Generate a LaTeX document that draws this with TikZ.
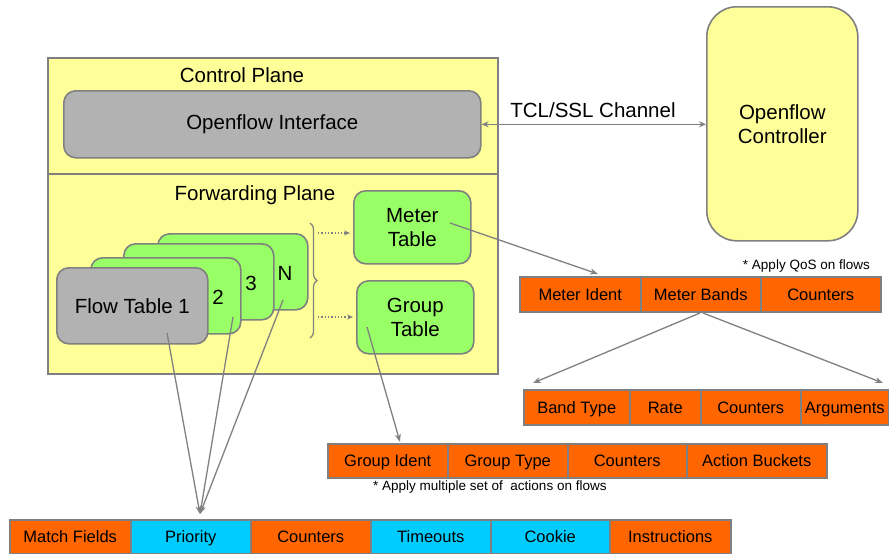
\documentclass[tikz,border=0pt]{standalone}
\usepackage{fontspec}
\setmainfont{Liberation Sans}
\usetikzlibrary{arrows.meta,decorations.pathreplacing,calc}

\definecolor{planeyellow}{HTML}{FFFF99}
\definecolor{tablegreen}{HTML}{99FF66}
\definecolor{boxgray}{HTML}{B2B2B2}
\definecolor{fieldorange}{HTML}{FF6600}
\definecolor{fieldcyan}{HTML}{00CCFF}
\definecolor{edgegray}{HTML}{808080}

\tikzset{
  big/.style={font=\fontsize{20.5}{24}\selectfont},
  plane/.style={draw=edgegray, line width=1.6, fill=planeyellow, inner sep=0, anchor=north west},
  rbox/.style={draw=edgegray, line width=1.6, rounded corners=12, inner sep=0, anchor=north west, align=center, big},
  cell/.style={draw=edgegray, line width=1.5, inner sep=0, anchor=north west, minimum height=35,
    text height=11.8, text depth=0, font=\fontsize{16.5}{18}\selectfont},
  org/.style={cell, fill=fieldorange},
  cyn/.style={cell, fill=fieldcyan},
  note/.style={font=\fontsize{13.5}{15}\selectfont, inner sep=0},
  conn/.style={draw=edgegray, line width=1.3, -{Stealth[length=8,width=6]}},
  dotconn/.style={draw=edgegray, line width=1.3, dotted, -{Stealth[length=6,width=5]}},
}

\begin{document}
\begin{tikzpicture}[x=1pt,y=-1pt]
\useasboundingbox (0,0) rectangle (889,554);

% switch planes
\node[plane, minimum width=450, minimum height=116] (cplane) at (47,57) {};
\node[plane, minimum width=450, minimum height=200] (fplane) at (47,173) {};
\node[big, inner sep=0] (ctitle) at (242,75) {Control Plane};
\node[big, inner sep=0] (ftitle) at (255,195) {Forwarding Plane};

% openflow interface
\node[rbox, fill=boxgray, minimum width=417, minimum height=67] (ofi) at (63,90) {Openflow Interface};

% controller
\node[rbox, rounded corners=30, fill=planeyellow, minimum width=151, minimum height=234] (ctrl) at (706,6) {Openflow\\Controller};
\draw[draw=edgegray, line width=1.3, {Stealth[length=7,width=6]}-{Stealth[length=7,width=6]}] (ofi.east) -- (ctrl.west |- ofi.east);
\node[big, inner sep=0] (chan) at (593,110) {TCL/SSL Channel};

% stacked flow tables
\node[rbox, fill=tablegreen, minimum width=150, minimum height=76] (ftN) at (157,233) {};
\node[rbox, fill=tablegreen, minimum width=150, minimum height=76] (ft3) at (123,243) {};
\node[rbox, fill=tablegreen, minimum width=150, minimum height=76] (ft2) at (90,257) {};
\node[rbox, fill=boxgray, minimum width=151, minimum height=76] (ft1) at (56,267) {Flow Table 1};
\node[big, inner sep=0] (lbl2) at (218,297) {2};
\node[big, inner sep=0] (lbl3) at (251,283) {3};
\node[big, inner sep=0] (lblN) at (285,273) {N};

% meter and group tables
\node[rbox, fill=tablegreen, minimum width=117, minimum height=73] (meter) at (353,190) {Meter\\Table};
\node[rbox, fill=tablegreen, minimum width=117, minimum height=73] (group) at (356,280) {Group\\Table};

% brace and dotted links
\coordinate (btop) at (310,223);
\coordinate (bbot) at (310,338);
\draw[draw=edgegray, line width=1.2, decorate, decoration={brace, amplitude=7}] (btop) -- (bbot);
\coordinate (m0) at (318,233);
\coordinate (g0) at (318,317);
\draw[dotconn, shorten >=3] (m0) -- (m0 -| meter.west);
\draw[dotconn, shorten >=3] (g0) -- (g0 -| group.west);

% meter entry
\node[note, anchor=east] (qos) at (870,266) {* Apply QoS on flows};
\node[org, minimum width=121] (mid) at (519,276) {Meter Ident};
\node[org, minimum width=120] (mbands) at (640,276) {Meter Bands};
\node[org, minimum width=120] (mcnt) at (760,276) {Counters};

% band entry
\node[org, minimum width=106] (btype) at (523,389) {Band Type};
\node[org, minimum width=71] (brate) at (629,389) {Rate};
\node[org, minimum width=100] (bcnt) at (700,389) {Counters};
\node[org, minimum width=88] (barg) at (800,389) {Arguments};

% group entry
\node[org, minimum width=120, minimum height=34] (gid) at (327,443) {Group Ident};
\node[org, minimum width=120, minimum height=34] (gtype) at (447,443) {Group Type};
\node[org, minimum width=119, minimum height=34] (gcnt) at (567,443) {Counters};
\node[org, minimum width=140, minimum height=34] (gact) at (686,443) {Action Buckets};
\node[note, anchor=west] (multi) at (373,487) {* Apply multiple set of~ actions on flows};

% flow entry
\node[org, minimum width=121, minimum height=34] (match) at (9,519) {Match Fields};
\node[cyn, minimum width=120, minimum height=34] (prio) at (130,519) {Priority};
\node[org, minimum width=120, minimum height=34] (fcnt) at (250,519) {Counters};
\node[cyn, minimum width=120, minimum height=34] (tout) at (370,519) {Timeouts};
\node[cyn, minimum width=119, minimum height=34] (cookie) at (490,519) {Cookie};
\node[org, minimum width=121, minimum height=34] (instr) at (609,519) {Instructions};

% connectors
\coordinate (ft1s) at (167,333);
\coordinate (ft2s) at (233,317);
\coordinate (ftNs) at (283,300);
\coordinate (ptip) at (200,514);
\draw[conn] (ft1s) -- (ptip);
\draw[conn] (ft2s) -- (ptip);
\draw[conn] (ftNs) -- (ptip);

\coordinate (meters) at (450,223);
\coordinate (mtip) at (598,274);
\draw[conn] (meters) -- (mtip);

\coordinate (groups) at (367,327);
\coordinate (gtip) at (400,442);
\draw[conn] (groups) -- (gtip);

\coordinate (bandl) at (700,313);
\coordinate (bandr) at (703,313);
\coordinate (btipl) at (533,383);
\coordinate (btipr) at (883,383);
\draw[conn] (bandl) -- (btipl);
\draw[conn] (bandr) -- (btipr);
\end{tikzpicture}
\end{document}
